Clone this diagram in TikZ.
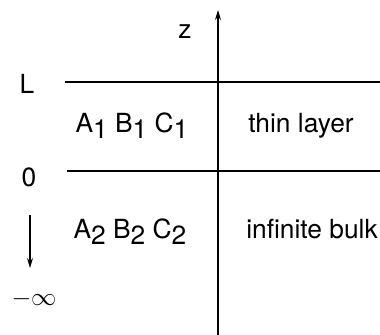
\documentclass[tikz,border=0pt]{standalone}
\usepackage{fontspec}
\setmainfont{TeX Gyre Heros}
\usetikzlibrary{arrows.meta, positioning}
\newcommand{\lowsub}[1]{\raisebox{-0.45ex}{\fontsize{15}{18}\selectfont #1}}

\begin{document}
\begin{tikzpicture}[x=0.02cm, y=-0.02cm,
      rule/.style={line width=0.7pt, draw=black},
      axis/.style={line width=0.7pt, -{Stealth[length=0.2cm, width=0.12cm]}},
      lbl/.style={font=\fontsize{15}{18}\selectfont, inner sep=0pt, anchor=base},
      side/.style={font=\fontsize{15}{18}\selectfont, inner sep=0pt}
    ]
    \useasboundingbox (0,0) rectangle (380,335);
    % z axis
    \coordinate (zbot) at (218,335);
    \coordinate (ztop) at (218,10);
    \draw[axis] (zbot) -- (ztop);
    \node[side] (zlbl) at (185,32) {z};

    % interfaces
    \coordinate (Lleft) at (65,82);
    \coordinate (Lright) at (380,82);
    \coordinate (Oleft) at (67,171);
    \coordinate (Oright) at (380,171);
    \draw[rule] (Lleft) -- (Lright);
    \draw[rule] (Oleft) -- (Oright);
    \node[side] (Llbl) at (27,84) {L};
    \node[side] (Olbl) at (29,177) {0};
    \node[side] (inflbl) at (34,299) {$-\infty$};

    % downward arrow
    \coordinate (dtop) at (30,215);
    \coordinate (dbot) at (30,268);
    \draw[axis] (dtop) -- (dbot);

    % layer contents
    \node[lbl] (top1) at (132,132) {A\lowsub{1} B\lowsub{1} C\lowsub{1}};
    \node[lbl] (thin) at (301,132) {thin layer};
    \node[lbl] (top2) at (130,238) {A\lowsub{2} B\lowsub{2} C\lowsub{2}};
    \node[lbl] (bulk) at (312,238) {infinite bulk};
  \end{tikzpicture}
\end{document}
